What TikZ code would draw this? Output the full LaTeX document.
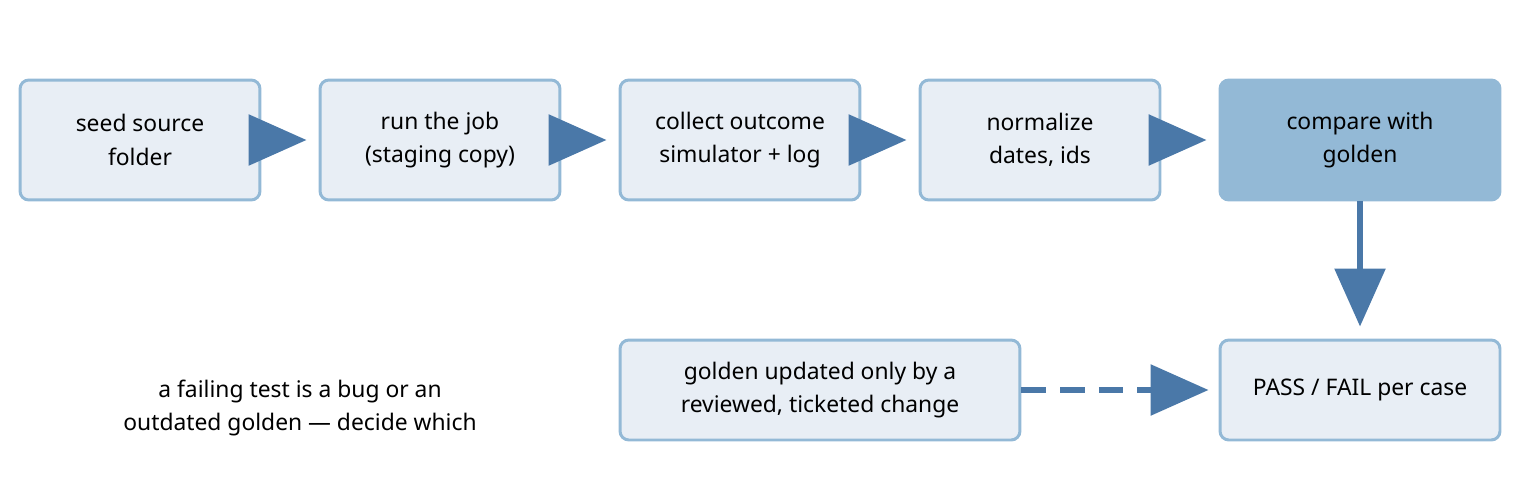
\documentclass[tikz,border=0pt]{standalone}
\usepackage{fontspec}
\setmainfont{Noto Sans}
\usetikzlibrary{arrows.meta}
\definecolor{boxfill}{HTML}{E8EEF5}
\definecolor{boxline}{HTML}{93B9D6}
\definecolor{hotfill}{HTML}{93B9D6}
\definecolor{flowblue}{HTML}{4A78A8}
\begin{document}
\begin{tikzpicture}[x=0.02cm,y=-0.02cm,
    box/.style={draw=boxline,fill=boxfill,line width=1.7pt,rounded corners=5pt,
      minimum width=4.8cm,minimum height=2.4cm,align=center,inner sep=0pt,
      font=\fontsize{13}{19}\selectfont},
    hot/.style={box,fill=hotfill,draw=hotfill,font=\fontsize{13}{19}\selectfont\bfseries},
    flow/.style={draw=flowblue,line width=3.4pt,-{Triangle[length=1.16cm,width=1cm]}}]
  \useasboundingbox (0,0) rectangle (1520,500);
  % top row
  \node[box] (seed) at (140,140) {seed source\\folder};
  \node[box] (run) at (440,140) {run the job\\(staging copy)};
  \node[box] (collect) at (740,140) {collect outcome\\simulator + log};
  \node[box] (norm) at (1040,140) {normalize\\dates, ids};
  \node[hot,minimum width=5.6cm] (cmp) at (1360,140) {compare with\\golden};
  % bottom row
  \node[box,minimum width=8cm,minimum height=2cm] (gold) at (820,390) {golden updated only by a\\reviewed, ticketed change};
  \node[box,minimum width=5.6cm,minimum height=2cm] (pass) at (1360,390) {PASS / FAIL per case};
  \node[font=\fontsize{13}{19}\selectfont,align=center] (note) at (300,408) {a failing test is a bug or an\\outdated golden — decide which};
  % arrows
  \draw[flow] ([xshift=-0.2cm]seed.east) -- ([xshift=-0.24cm]run.west);
  \draw[flow] ([xshift=-0.2cm]run.east) -- ([xshift=-0.24cm]collect.west);
  \draw[flow] ([xshift=-0.2cm]collect.east) -- ([xshift=-0.24cm]norm.west);
  \draw[flow] ([xshift=-0.2cm]norm.east) -- ([xshift=-0.24cm]cmp.west);
  \draw[flow] (cmp.south) -- ([yshift=0.24cm]pass.north);
  \draw[flow,dash pattern=on 14pt off 8pt] (gold.east) -- ([xshift=-0.2cm]pass.west);
\end{tikzpicture}
\end{document}
